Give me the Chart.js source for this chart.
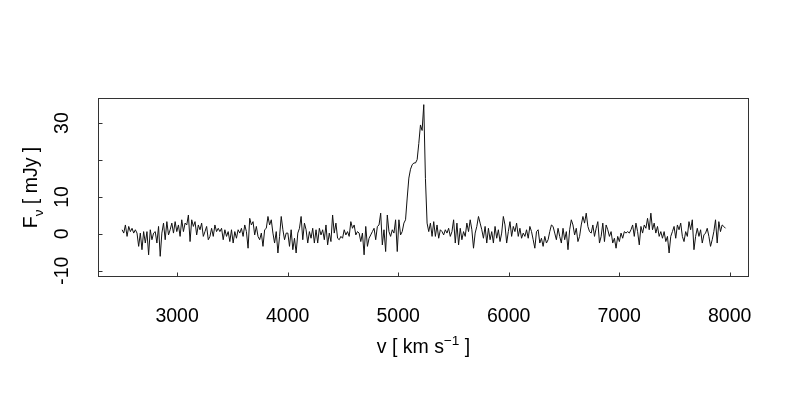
<!DOCTYPE html>
<html>
<head>
<meta charset="utf-8">
<script src="https://cdn.jsdelivr.net/npm/chart.js@4/dist/chart.umd.min.js"></script>
<style>
  html, body { margin: 0; padding: 0; background: #fff; }
</style>
</head>
<body>
<canvas id="spectrum" width="800" height="400"></canvas>
<script>
/* Spectrum channels: first velocity and channel width (km/s) */
var VEL_START = 2502;
var CHAN_WIDTH = 15;

/* Flux density per channel (mJy) left to right */
var FLUX = [
  1.1, 0.2, 2.4, -0.7, 2.0, 0.6, 1.5, 0.2, 1.1, 0.2, -3.4, 0.2, -4.3, 0.6, -2.5, 0.6, -5.7, 1.1, -1.6, 0.2,
  0.6, -2.5, 2.0, -6.1, 0.2, 2.9, -1.6, 3.3, -0.3, 1.1, 2.9, 0.2, 3.3, 0.6, 2.4, -0.7, 3.8, 0.6, 2.9, 2.4,
  5.1, -2.1, 3.8, 2.0, 3.3, -0.3, 2.4, 1.1, 2.9, -0.7, 0.6, 2.0, -1.6, -0.7, 1.5, -0.7, 2.4, 0.6, 1.5,
  0.6, 1.5, -1.6, 1.1, -0.7, 0.6, -2.1, 1.1, -2.5, 0.6, -1.2, 1.1, 0.2, 1.5, -0.7, 2.4, 0.6, -3.9, 4.2, 2.4,
  3.3, -0.3, 2.0, -0.7, -1.6, 0.2, -3.4, 1.1, 1.5, 4.7, 2.4, 3.8, 0.2, -2.5, 0.6, -5.2, -0.7, 4.7, 1.1, -1.6,
  0.2, 0.2, -3.4, 1.1, -4.3, -1.2, -5.2, 0.2, 1.5, 4.7, -1.6, 2.9, 1.1, -2.5, 0.6, -1.2, 1.5, -2.5, 1.1, -2.5,
  1.5, -0.3, 1.1,
  -1.6, 2.4, -3.0, 0.2, -2.1, 5.1, 0.2, 2.9, -1.2, -1.6, -0.7, -1.2, 1.1, -0.3, 0.6, -0.7, 3.3, 1.5, 2.4, -0.3,
  0.6, 0.2, -2.1, 0.2, -5.7, 2.0, -3.4, -1.2, -0.3, 0.6, 1.5, -1.6, 2.0, 2.4, 5.6, -3.0, 1.1, -4.8, 5.1, 0.6,
  -0.7, 1.1, 0.2, 3.8, -4.8, 3.8, -0.3, 0.6, 2.9,
  3.8, 9.7, 15.1, 17.5, 18.7, 19.2, 19.2, 20.1, 24.5, 29.5, 28.0, 35.0, 15.0, 2.9, 0.6,
  2.9, -0.7, 3.3, -0.7, 2.4, -1.2, 1.1, 0.6, -0.3, 1.1, 0.2, 1.5, -0.7, 0.6, 3.8, -2.5, 2.9, -3.0, 1.5, -1.6,
  0.6, -0.7, 2.9, 0.6, 3.8, 1.1, -3.9, 0.2, 2.0, 4.7, 2.9, 1.1, -1.2, 2.0, -2.5, 1.5, -1.6, 0.6, -2.5, 2.0,
  -1.2, 1.1, -2.1, 0.2, 4.7, 2.4, -2.5, 0.6, 3.3, -0.7, 2.0, 0.6, 2.9, -0.7, 1.5, -1.2, 0.2, -0.7, 1.1, -1.2,
  2.0, 0.6, -1.6,
  -3.9, 0.6, 1.1, -2.5, -1.2, -3.4, -0.7, -2.5, -1.6, 0.6, 2.4, 2.0, 0.2, -1.6, 1.5, -0.7, -2.5, 1.5, -1.6, 0.6,
  -4.3, 1.1, 3.8, 2.4, -0.3, 1.5, -2.1, -0.7, 2.4, 4.7, 2.9, 5.6, 2.0, 0.6, 0.2, 2.4, -0.7, 1.5, 3.3, -2.5,
  -0.7, 2.9, -2.1, 2.4, 1.1, -0.7, 0.6, -2.5, -1.2, -3.9, -0.7, -2.1, 0.2, -1.2, 0.6, 0.2, 0.6,
  0.2, 1.1, 2.4, -0.7, 2.9, 0.6, -3.0, 2.0, 0.2, 2.4, 1.5, 4.2, 1.1, 5.6, 1.1, 2.9, 0.2, 2.0, -0.7, 0.6,
  -1.2, 0.6, -2.1, -0.7, -5.2, -0.7, 0.6, 2.0, -1.2, 2.4, 1.1, 2.9, -0.7, -2.1, 0.6, -0.7, 3.3, 1.1, 3.8, -4.3,
  -0.7, 1.5, -0.7, 1.1, -2.5, -0.3, 0.2, 1.5, -0.7, -3.4, -1.6, 0.6, 3.8, -2.5, 3.3, 0.6, 2.4, 2.0, 1.5
];

/* Axis ranges and ticks (R-style: ticks inside, 20 label dropped) */
var X_RANGE = [2284, 8175];
var Y_RANGE = [-11.7, 36.8];
var X_TICKS = [3000, 4000, 5000, 6000, 7000, 8000];
var X_TICK_LABELS = ['3000', '4000', '5000', '6000', '7000', '8000'];
var Y_TICKS = [-10, 0, 10, 20, 30];
var Y_TICK_LABELS = ['-10', '0', '10', '', '30'];

var FONT = "'Liberation Sans', Arial, sans-serif";
var FONT_SIZE = 19.5;

var points = FLUX.map(function(f, i) {
  return { x: VEL_START + i * CHAN_WIDTH, y: f };
});

/* Box, inward ticks, rotated y labels and the two axis titles */
var framePlugin = {
  id: 'rframe',
  afterDraw: function(chart) {
    var ctx = chart.ctx;
    var xs = chart.scales.x;
    var ys = chart.scales.y;
    var a = chart.chartArea;
    var L = Math.round(a.left) + 0.5, R = Math.round(a.right) - 0.5;
    var T = Math.round(a.top) + 0.5, B = Math.round(a.bottom) - 0.5;

    ctx.save();
    ctx.strokeStyle = '#333';
    ctx.lineWidth = 1;
    ctx.strokeRect(L, T, R - L, B - T);

    ctx.beginPath();
    X_TICKS.forEach(function(v) {
      var px = Math.round(xs.getPixelForValue(v)) + 0.5;
      ctx.moveTo(px, B);
      ctx.lineTo(px, B - 4);
    });
    Y_TICKS.forEach(function(v) {
      var py = Math.round(ys.getPixelForValue(v)) + 0.5;
      ctx.moveTo(L, py);
      ctx.lineTo(L + 4, py);
    });
    ctx.stroke();

    ctx.fillStyle = '#000';
    ctx.font = FONT_SIZE + 'px ' + FONT;
    ctx.textBaseline = 'alphabetic';
    ctx.textAlign = 'center';
    X_TICKS.forEach(function(v, i) {
      ctx.fillText(X_TICK_LABELS[i], xs.getPixelForValue(v), a.bottom + 44.5);
    });
    Y_TICKS.forEach(function(v, i) {
      if (!Y_TICK_LABELS[i]) return;
      ctx.save();
      ctx.translate(a.left - 30, ys.getPixelForValue(v));
      ctx.rotate(-Math.PI / 2);
      ctx.fillText(Y_TICK_LABELS[i], 0, 0);
      ctx.restore();
    });

    /* x title: v [ km s^-1 ] */
    var big = FONT_SIZE + 'px ' + FONT;
    var small = (FONT_SIZE * 0.7) + 'px ' + FONT;
    var parts = [
      { t: 'v [ km s', f: big, dy: 0 },
      { t: '\u22121', f: small, dy: -8 },
      { t: ' ]', f: big, dy: 0 }
    ];
    drawParts(ctx, parts, (a.left + a.right) / 2, a.bottom + 76, 0);

    /* y title: F_nu [ mJy ] */
    var yparts = [
      { t: 'F', f: big, dy: 0 },
      { t: '\u03bd', f: small, dy: 6 },
      { t: ' [ mJy ]', f: big, dy: 0 }
    ];
    drawParts(ctx, yparts, a.left - 61.5, (a.top + a.bottom) / 2, -Math.PI / 2);
    ctx.restore();
  }
};

function drawParts(ctx, parts, cx, cy, rot) {
  var total = 0;
  parts.forEach(function(p) {
    ctx.font = p.f;
    p.w = ctx.measureText(p.t).width;
    total += p.w;
  });
  ctx.save();
  ctx.translate(cx, cy);
  ctx.rotate(rot);
  ctx.textAlign = 'left';
  var x = -total / 2;
  parts.forEach(function(p) {
    ctx.font = p.f;
    ctx.fillText(p.t, x, p.dy);
    x += p.w;
  });
  ctx.restore();
}

new Chart(document.getElementById('spectrum').getContext('2d'), {
  type: 'line',
  data: {
    datasets: [{
      data: points,
      borderColor: '#111',
      borderWidth: 1,
      pointRadius: 0,
      tension: 0,
      fill: false
    }]
  },
  options: {
    responsive: false,
    animation: false,
    layout: { padding: { left: 98, right: 51, top: 98, bottom: 123 } },
    scales: {
      x: { type: 'linear', min: X_RANGE[0], max: X_RANGE[1], display: false },
      y: { type: 'linear', min: Y_RANGE[0], max: Y_RANGE[1], display: false }
    },
    plugins: {
      legend: { display: false },
      tooltip: { enabled: false }
    }
  },
  plugins: [framePlugin]
});
</script>
</body>
</html>
